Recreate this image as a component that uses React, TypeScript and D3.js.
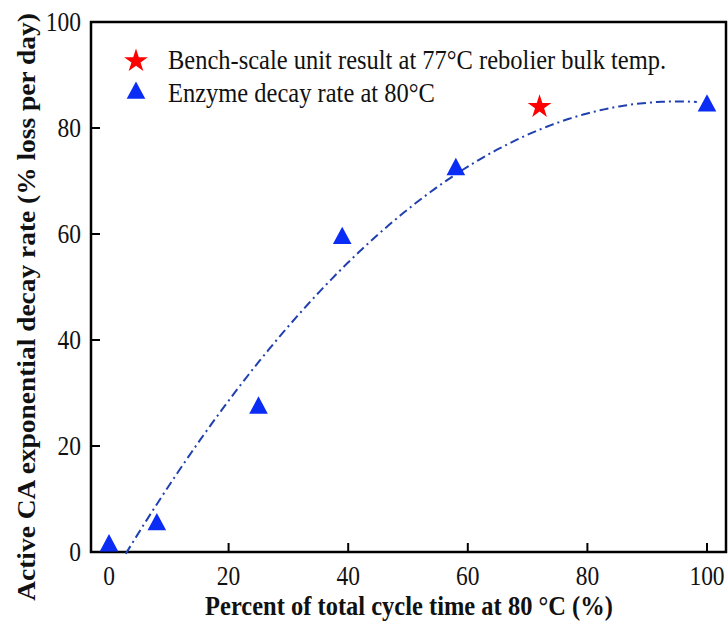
import React from "react";
import * as d3 from "d3";

const enzymeX = [0, 8, 25, 39, 58, 100];
const enzymeY = [1, 5, 27, 59, 72, 84];
const benchX = [72];
const benchY = [84];
// quadratic trend line: y = c0 + c1*x + c2*x^2
const fitCoef = [-5.6, 1.9076, -0.01004];
const fitRange = [2.8, 98.3];
const xTicks = [0, 20, 40, 60, 80, 100];
const yTicks = [0, 20, 40, 60, 80, 100];
const legendLabels = [
  "Bench-scale unit result at 77°C rebolier bulk temp.",
  "Enzyme decay rate at 80°C",
];
const xTitle = "Percent of total cycle time at 80 °C (%)";
const yTitle = "Active CA exponential decay rate (% loss per day)";

const SY = 1.12;

function T(props: { x: number; y: number; size: number; anchor?: string; bold?: boolean; children: React.ReactNode }) {
  return (
    <text
      transform={`translate(${props.x},${props.y}) scale(1,${SY})`}
      textAnchor={props.anchor || "start"}
      fontSize={props.size}
      fontWeight={props.bold ? "bold" : "normal"}
    >
      {props.children}
    </text>
  );
}

export default function App() {
  const W = 728, H = 628;
  const x = d3.scaleLinear().domain([0, 100]).range([109, 707]);
  const y = d3.scaleLinear().domain([0, 100]).range([552, 22]);
  const left = 91, right = 726, top = 22, bottom = 552;
  const fitPts: [number, number][] = d3.range(fitRange[0], fitRange[1] + 0.01, 0.5).map((v) => [
    v,
    fitCoef[0] + fitCoef[1] * v + fitCoef[2] * v * v,
  ]);
  const line = d3.line<[number, number]>().x((d) => x(d[0])).y((d) => y(d[1]));
  const tri = d3.symbol().type(d3.symbolTriangle).size(150)()!;
  const star = d3.symbol().type(d3.symbolStar).size(175)()!;
  const blue = "#0a2cf5";
  return (
    <svg width={W} height={H} fontFamily="Liberation Serif" style={{ position: "absolute", left: 0, top: 0, background: "#fff", fontFamily: "Liberation Serif" }}>
      <style>{`text { font-family: "Liberation Serif", serif; fill: #111; }`}</style>
      <rect x={left} y={top} width={right - left} height={bottom - top} fill="none" stroke="#000" strokeWidth={2.5} />
      {xTicks.map((t) => (
        <g key={"x" + t}>
          <line x1={x(t)} x2={x(t)} y1={bottom} y2={bottom - 9} stroke="#000" strokeWidth={2} />
          <T x={x(t)} y={bottom + 33} size={23.5} anchor="middle">{t}</T>
        </g>
      ))}
      {yTicks.map((t) => (
        <g key={"y" + t}>
          {t !== 0 && t !== 100 && (
            <line x1={left} x2={left + 9} y1={y(t)} y2={y(t)} stroke="#000" strokeWidth={2} />
          )}
          <T x={left - 10} y={y(t) + 8.5} size={23.5} anchor="end">{t}</T>
        </g>
      ))}
      <path d={line(fitPts)!} fill="none" stroke="#2040b0" strokeWidth={2} strokeDasharray="9,4,2,4" />
      {enzymeX.map((v, i) => (
        <path key={"e" + i} d={tri} transform={`translate(${x(v)},${y(enzymeY[i]) - 1}) scale(1,1.08)`} fill={blue} />
      ))}
      {benchX.map((v, i) => (
        <path key={"b" + i} d={star} transform={`translate(${x(v)},${y(benchY[i])})`} fill="#ff0000" />
      ))}
      <path d={star} transform="translate(136,61)" fill="#ff0000" />
      <path d={tri} transform="translate(136,93) scale(1,1.08)" fill={blue} />
      <T x={168} y={69} size={24.5}>{legendLabels[0]}</T>
      <T x={168} y={102} size={24.5}>{legendLabels[1]}</T>
      <T x={409} y={615} size={24.5} anchor="middle" bold>{xTitle}</T>
      <text
        transform={`translate(35,307) rotate(-90) scale(1.12,1)`}
        textAnchor="middle"
        fontSize={24.5}
        fontWeight="bold"
      >
        {yTitle}
      </text>
    </svg>
  );
}
